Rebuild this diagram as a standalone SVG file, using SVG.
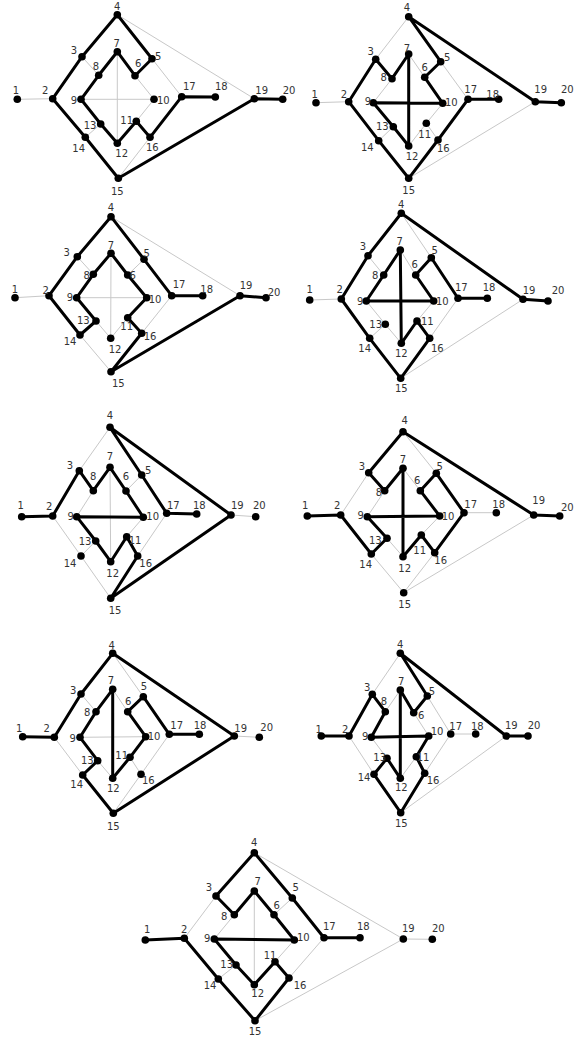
<svg xmlns="http://www.w3.org/2000/svg" width="576" height="1039" viewBox="0 0 576 1039">
<style>
.bg{fill:#fff}
.connectors line{stroke:#c8c8c8;stroke-width:1;fill:none}
.connectors polyline{stroke:#000;stroke-width:3;fill:none;stroke-linejoin:round;stroke-linecap:round}
.nodes circle{fill:#000}
.nodes text{font-family:"DejaVu Sans",Verdana,sans-serif;font-size:10px;fill:#333;text-anchor:middle}
</style>
<rect class="bg" x="0" y="0" width="576" height="1039"/>

<!-- Panel 1 -->
<g id="p1">
<g id="p1-connectors" class="connectors">
<line x1="17.3" y1="99.3" x2="52.7" y2="98.7"/>
<line x1="82" y1="56.7" x2="98.7" y2="75.3"/>
<line x1="117.3" y1="14.7" x2="254.3" y2="98.7"/>
<line x1="152" y1="58.7" x2="181.7" y2="96.7"/>
<line x1="135" y1="75.7" x2="154" y2="99.3"/>
<line x1="117.3" y1="51.7" x2="117.3" y2="143.3"/>
<line x1="81" y1="99.3" x2="154" y2="99.3"/>
<line x1="154" y1="99.3" x2="136.3" y2="121.3"/>
<line x1="100.7" y1="124" x2="85.3" y2="137.3"/>
<line x1="118.3" y1="178.3" x2="150" y2="137.3"/>
<polyline points="282.7,99.3 254.3,98.7 118.3,178.3 85.3,137.3 52.7,98.7 82,56.7 117.3,14.7 152,58.7 135,75.7 117.3,51.7 98.7,75.3 81,99.3 100.7,124 117.3,143.3 136.3,121.3 150,137.3 181.7,96.7 215.3,97"/>
</g>
<g class="nodes">
<g id="p1-n1"><circle cx="17.3" cy="99.3" r="3.8"/><text x="16" y="93.6">1</text></g>
<g id="p1-n2"><circle cx="52.7" cy="98.7" r="3.8"/><text x="45.3" y="93.6">2</text></g>
<g id="p1-n3"><circle cx="82" cy="56.7" r="3.8"/><text x="74" y="54.3">3</text></g>
<g id="p1-n4"><circle cx="117.3" cy="14.7" r="3.8"/><text x="117.3" y="9.6">4</text></g>
<g id="p1-n5"><circle cx="152" cy="58.7" r="3.8"/><text x="158.3" y="60.3">5</text></g>
<g id="p1-n6"><circle cx="135" cy="75.7" r="3.8"/><text x="138.3" y="66.9">6</text></g>
<g id="p1-n7"><circle cx="117.3" cy="51.7" r="3.8"/><text x="116.7" y="46.9">7</text></g>
<g id="p1-n8"><circle cx="98.7" cy="75.3" r="3.8"/><text x="96" y="70.3">8</text></g>
<g id="p1-n9"><circle cx="81" cy="99.3" r="3.8"/><text x="74" y="103.6">9</text></g>
<g id="p1-n10"><circle cx="154" cy="99.3" r="3.8"/><text x="163.3" y="103.6">10</text></g>
<g id="p1-n11"><circle cx="136.3" cy="121.3" r="3.8"/><text x="126.7" y="123.6">11</text></g>
<g id="p1-n12"><circle cx="117.3" cy="143.3" r="3.8"/><text x="121.7" y="156.9">12</text></g>
<g id="p1-n13"><circle cx="100.7" cy="124" r="3.8"/><text x="90" y="128.6">13</text></g>
<g id="p1-n14"><circle cx="85.3" cy="137.3" r="3.8"/><text x="78.7" y="151.9">14</text></g>
<g id="p1-n15"><circle cx="118.3" cy="178.3" r="3.8"/><text x="117.3" y="194.6">15</text></g>
<g id="p1-n16"><circle cx="150" cy="137.3" r="3.8"/><text x="152.3" y="151.3">16</text></g>
<g id="p1-n17"><circle cx="181.7" cy="96.7" r="3.8"/><text x="189.3" y="89.6">17</text></g>
<g id="p1-n18"><circle cx="215.3" cy="97" r="3.8"/><text x="221.3" y="89.6">18</text></g>
<g id="p1-n19"><circle cx="254.3" cy="98.7" r="3.8"/><text x="261.7" y="93.6">19</text></g>
<g id="p1-n20"><circle cx="282.7" cy="99.3" r="3.8"/><text x="289" y="93.6">20</text></g>
</g>
</g>

<!-- Panel 2 -->
<g id="p2">
<g id="p2-connectors" class="connectors">
<line x1="316" y1="102.7" x2="348.7" y2="101.7"/>
<line x1="375.7" y1="59.3" x2="408.7" y2="16.7"/>
<line x1="424.7" y1="77.3" x2="408.7" y2="54"/>
<line x1="440.7" y1="61.7" x2="468" y2="99.3"/>
<line x1="392" y1="78.7" x2="373.3" y2="102.7"/>
<line x1="393.3" y1="126.7" x2="378.7" y2="140.7"/>
<line x1="442.7" y1="103.3" x2="426.3" y2="123.3"/>
<line x1="426.3" y1="123.3" x2="408.7" y2="146"/>
<line x1="426.3" y1="123.3" x2="438" y2="140"/>
<line x1="408.7" y1="178.3" x2="535.3" y2="101.7"/>
<polyline points="561.3,102.7 535.3,101.7 408.7,16.7 440.7,61.7 424.7,77.3 442.7,103.3 373.3,102.7 393.3,126.7 408.7,146 408.7,54 392,78.7 375.7,59.3 348.7,101.7 378.7,140.7 408.7,178.3 438,140 468,99.3 498.7,99.3"/>
</g>
<g class="nodes">
<g id="p2-n1"><circle cx="316" cy="102.7" r="3.8"/><text x="314.7" y="97.6">1</text></g>
<g id="p2-n2"><circle cx="348.7" cy="101.7" r="3.8"/><text x="344" y="97.9">2</text></g>
<g id="p2-n3"><circle cx="375.7" cy="59.3" r="3.8"/><text x="370.7" y="55.3">3</text></g>
<g id="p2-n4"><circle cx="408.7" cy="16.7" r="3.8"/><text x="407" y="10.9">4</text></g>
<g id="p2-n5"><circle cx="440.7" cy="61.7" r="3.8"/><text x="447.3" y="60.9">5</text></g>
<g id="p2-n6"><circle cx="424.7" cy="77.3" r="3.8"/><text x="424.7" y="71.3">6</text></g>
<g id="p2-n7"><circle cx="408.7" cy="54" r="3.8"/><text x="407" y="51.9">7</text></g>
<g id="p2-n8"><circle cx="392" cy="78.7" r="3.8"/><text x="383.7" y="80.9">8</text></g>
<g id="p2-n9"><circle cx="373.3" cy="102.7" r="3.8"/><text x="368" y="105.3">9</text></g>
<g id="p2-n10"><circle cx="442.7" cy="103.3" r="3.8"/><text x="451.3" y="106.3">10</text></g>
<g id="p2-n11"><circle cx="426.3" cy="123.3" r="3.8"/><text x="424.7" y="137.6">11</text></g>
<g id="p2-n12"><circle cx="408.7" cy="146" r="3.8"/><text x="412" y="159.6">12</text></g>
<g id="p2-n13"><circle cx="393.3" cy="126.7" r="3.8"/><text x="382.3" y="130.3">13</text></g>
<g id="p2-n14"><circle cx="378.7" cy="140.7" r="3.8"/><text x="367.3" y="150.9">14</text></g>
<g id="p2-n15"><circle cx="408.7" cy="178.3" r="3.8"/><text x="408.7" y="194.3">15</text></g>
<g id="p2-n16"><circle cx="438" cy="140" r="3.8"/><text x="443.3" y="151.9">16</text></g>
<g id="p2-n17"><circle cx="468" cy="99.3" r="3.8"/><text x="470.7" y="92.9">17</text></g>
<g id="p2-n18"><circle cx="498.7" cy="99.3" r="3.8"/><text x="492.7" y="97.9">18</text></g>
<g id="p2-n19"><circle cx="535.3" cy="101.7" r="3.8"/><text x="540.7" y="92.9">19</text></g>
<g id="p2-n20"><circle cx="561.3" cy="102.7" r="3.8"/><text x="567.3" y="92.9">20</text></g>
</g>
</g>

<!-- Panel 3 -->
<g id="p3">
<g id="p3-connectors" class="connectors">
<line x1="15" y1="297.7" x2="49" y2="295.7"/>
<line x1="77.3" y1="256.7" x2="93.3" y2="274.3"/>
<line x1="111" y1="216.7" x2="240" y2="295.7"/>
<line x1="144" y1="259.3" x2="127.7" y2="275"/>
<line x1="111" y1="253.3" x2="110.7" y2="338.3"/>
<line x1="76.7" y1="297.7" x2="146.7" y2="297.7"/>
<line x1="110.7" y1="338.3" x2="96" y2="321"/>
<line x1="127.7" y1="317.7" x2="110.7" y2="338.3"/>
<line x1="141.7" y1="333.3" x2="171.7" y2="295.7"/>
<line x1="80" y1="335" x2="111" y2="371.7"/>
<polyline points="202.7,295.7 171.7,295.7 144,259.3 111,216.7 77.3,256.7 49,295.7 80,335 96,321 76.7,297.7 93.3,274.3 111,253.3 127.7,275 146.7,297.7 127.7,317.7 141.7,333.3 111,371.7 240,295.7 266,297.7"/>
</g>
<g class="nodes">
<g id="p3-n1"><circle cx="15" cy="297.7" r="3.8"/><text x="15" y="292.9">1</text></g>
<g id="p3-n2"><circle cx="49" cy="295.7" r="3.8"/><text x="45.7" y="293.6">2</text></g>
<g id="p3-n3"><circle cx="77.3" cy="256.7" r="3.8"/><text x="66.7" y="255.9">3</text></g>
<g id="p3-n4"><circle cx="111" cy="216.7" r="3.8"/><text x="111" y="211.3">4</text></g>
<g id="p3-n5"><circle cx="144" cy="259.3" r="3.8"/><text x="146.7" y="256.9">5</text></g>
<g id="p3-n6"><circle cx="127.7" cy="275" r="3.8"/><text x="132.7" y="278.6">6</text></g>
<g id="p3-n7"><circle cx="111" cy="253.3" r="3.8"/><text x="111" y="249.3">7</text></g>
<g id="p3-n8"><circle cx="93.3" cy="274.3" r="3.8"/><text x="86.7" y="278.6">8</text></g>
<g id="p3-n9"><circle cx="76.7" cy="297.7" r="3.8"/><text x="70" y="301.3">9</text></g>
<g id="p3-n10"><circle cx="146.7" cy="297.7" r="3.8"/><text x="155" y="302.9">10</text></g>
<g id="p3-n11"><circle cx="127.7" cy="317.7" r="3.8"/><text x="126.7" y="330.3">11</text></g>
<g id="p3-n12"><circle cx="110.7" cy="338.3" r="3.8"/><text x="115" y="352.6">12</text></g>
<g id="p3-n13"><circle cx="96" cy="321" r="3.8"/><text x="83.3" y="323.6">13</text></g>
<g id="p3-n14"><circle cx="80" cy="335" r="3.8"/><text x="70" y="345.3">14</text></g>
<g id="p3-n15"><circle cx="111" cy="371.7" r="3.8"/><text x="118.3" y="386.9">15</text></g>
<g id="p3-n16"><circle cx="141.7" cy="333.3" r="3.8"/><text x="150" y="340.3">16</text></g>
<g id="p3-n17"><circle cx="171.7" cy="295.7" r="3.8"/><text x="179" y="287.9">17</text></g>
<g id="p3-n18"><circle cx="202.7" cy="295.7" r="3.8"/><text x="206.7" y="292.9">18</text></g>
<g id="p3-n19"><circle cx="240" cy="295.7" r="3.8"/><text x="246" y="288.6">19</text></g>
<g id="p3-n20"><circle cx="266" cy="297.7" r="3.8"/><text x="274" y="295.9">20</text></g>
</g>
</g>

<!-- Panel 4 -->
<g id="p4">
<g id="p4-connectors" class="connectors">
<line x1="309.7" y1="300" x2="341.3" y2="299"/>
<line x1="401.3" y1="213.3" x2="431.3" y2="257.7"/>
<line x1="368" y1="255.7" x2="383.7" y2="275"/>
<line x1="415.7" y1="275" x2="400.3" y2="250"/>
<line x1="366.3" y1="301" x2="385.3" y2="324.3"/>
<line x1="401.3" y1="343.3" x2="385.3" y2="324.3"/>
<line x1="385.3" y1="324.3" x2="369.7" y2="338.3"/>
<line x1="433.7" y1="301" x2="417" y2="321"/>
<line x1="429.7" y1="338.3" x2="458" y2="298.3"/>
<line x1="400.7" y1="378.3" x2="523" y2="299.3"/>
<polyline points="548,301 523,299.3 401.3,213.3 368,255.7 341.3,299 369.7,338.3 400.7,378.3 429.7,338.3 417,321 401.3,343.3 400.3,250 383.7,275 366.3,301 433.7,301 415.7,275 431.3,257.7 458,298.3 487.3,298.3"/>
</g>
<g class="nodes">
<g id="p4-n1"><circle cx="309.7" cy="300" r="3.8"/><text x="309.7" y="292.9">1</text></g>
<g id="p4-n2"><circle cx="341.3" cy="299" r="3.8"/><text x="339.7" y="292.9">2</text></g>
<g id="p4-n3"><circle cx="368" cy="255.7" r="3.8"/><text x="363" y="250.3">3</text></g>
<g id="p4-n4"><circle cx="401.3" cy="213.3" r="3.8"/><text x="401.3" y="207.9">4</text></g>
<g id="p4-n5"><circle cx="431.3" cy="257.7" r="3.8"/><text x="434.7" y="253.6">5</text></g>
<g id="p4-n6"><circle cx="415.7" cy="275" r="3.8"/><text x="414.7" y="267.9">6</text></g>
<g id="p4-n7"><circle cx="400.3" cy="250" r="3.8"/><text x="399.7" y="245.3">7</text></g>
<g id="p4-n8"><circle cx="383.7" cy="275" r="3.8"/><text x="375.3" y="278.6">8</text></g>
<g id="p4-n9"><circle cx="366.3" cy="301" r="3.8"/><text x="360.3" y="305.3">9</text></g>
<g id="p4-n10"><circle cx="433.7" cy="301" r="3.8"/><text x="442.3" y="305.3">10</text></g>
<g id="p4-n11"><circle cx="417" cy="321" r="3.8"/><text x="427.3" y="325.3">11</text></g>
<g id="p4-n12"><circle cx="401.3" cy="343.3" r="3.8"/><text x="401.3" y="356.9">12</text></g>
<g id="p4-n13"><circle cx="385.3" cy="324.3" r="3.8"/><text x="375.7" y="327.6">13</text></g>
<g id="p4-n14"><circle cx="369.7" cy="338.3" r="3.8"/><text x="364.7" y="351.9">14</text></g>
<g id="p4-n15"><circle cx="400.7" cy="378.3" r="3.8"/><text x="401.3" y="391.9">15</text></g>
<g id="p4-n16"><circle cx="429.7" cy="338.3" r="3.8"/><text x="437.3" y="351.9">16</text></g>
<g id="p4-n17"><circle cx="458" cy="298.3" r="3.8"/><text x="461.3" y="291.3">17</text></g>
<g id="p4-n18"><circle cx="487.3" cy="298.3" r="3.8"/><text x="489" y="291.3">18</text></g>
<g id="p4-n19"><circle cx="523" cy="299.3" r="3.8"/><text x="529" y="293.6">19</text></g>
<g id="p4-n20"><circle cx="548" cy="301" r="3.8"/><text x="558" y="293.6">20</text></g>
</g>
</g>

<!-- Panel 5 -->
<g id="p5">
<g id="p5-connectors" class="connectors">
<line x1="79.3" y1="470.7" x2="110" y2="427.3"/>
<line x1="52.7" y1="516" x2="81" y2="556"/>
<line x1="81" y1="556" x2="110.7" y2="598.3"/>
<line x1="93.3" y1="490.7" x2="76.7" y2="516.7"/>
<line x1="110" y1="467.3" x2="110.7" y2="561.7"/>
<line x1="141.7" y1="475" x2="126" y2="491"/>
<line x1="143.3" y1="517.3" x2="126.7" y2="536.7"/>
<line x1="137.7" y1="556" x2="166.7" y2="513.3"/>
<line x1="95.7" y1="541" x2="81" y2="556"/>
<line x1="231" y1="515" x2="255.7" y2="516.7"/>
<polyline points="21.7,516.7 52.7,516 79.3,470.7 93.3,490.7 110,467.3 126,491 143.3,517.3 76.7,516.7 95.7,541 110.7,561.7 126.7,536.7 137.7,556 110.7,598.3 231,515 110,427.3 141.7,475 166.7,513.3 196.7,514"/>
</g>
<g class="nodes">
<g id="p5-n1"><circle cx="21.7" cy="516.7" r="3.8"/><text x="20.7" y="508.6">1</text></g>
<g id="p5-n2"><circle cx="52.7" cy="516" r="3.8"/><text x="49.3" y="509.6">2</text></g>
<g id="p5-n3"><circle cx="79.3" cy="470.7" r="3.8"/><text x="70" y="468.6">3</text></g>
<g id="p5-n4"><circle cx="110" cy="427.3" r="3.8"/><text x="110" y="418.6">4</text></g>
<g id="p5-n5"><circle cx="141.7" cy="475" r="3.8"/><text x="148.3" y="473.6">5</text></g>
<g id="p5-n6"><circle cx="126" cy="491" r="3.8"/><text x="126" y="479.6">6</text></g>
<g id="p5-n7"><circle cx="110" cy="467.3" r="3.8"/><text x="110" y="460.3">7</text></g>
<g id="p5-n8"><circle cx="93.3" cy="490.7" r="3.8"/><text x="93.3" y="479.6">8</text></g>
<g id="p5-n9"><circle cx="76.7" cy="516.7" r="3.8"/><text x="70.7" y="519.6">9</text></g>
<g id="p5-n10"><circle cx="143.3" cy="517.3" r="3.8"/><text x="152.7" y="519.6">10</text></g>
<g id="p5-n11"><circle cx="126.7" cy="536.7" r="3.8"/><text x="135" y="543.6">11</text></g>
<g id="p5-n12"><circle cx="110.7" cy="561.7" r="3.8"/><text x="112.7" y="576.9">12</text></g>
<g id="p5-n13"><circle cx="95.7" cy="541" r="3.8"/><text x="85" y="544.6">13</text></g>
<g id="p5-n14"><circle cx="81" cy="556" r="3.8"/><text x="70" y="566.9">14</text></g>
<g id="p5-n15"><circle cx="110.7" cy="598.3" r="3.8"/><text x="115" y="613.6">15</text></g>
<g id="p5-n16"><circle cx="137.7" cy="556" r="3.8"/><text x="145.7" y="566.9">16</text></g>
<g id="p5-n17"><circle cx="166.7" cy="513.3" r="3.8"/><text x="173.3" y="508.6">17</text></g>
<g id="p5-n18"><circle cx="196.7" cy="514" r="3.8"/><text x="199.3" y="508.6">18</text></g>
<g id="p5-n19"><circle cx="231" cy="515" r="3.8"/><text x="237.3" y="508.6">19</text></g>
<g id="p5-n20"><circle cx="255.7" cy="516.7" r="3.8"/><text x="259.3" y="508.6">20</text></g>
</g>
</g>

<!-- Panel 6 -->
<g id="p6">
<g id="p6-connectors" class="connectors">
<line x1="340.7" y1="515" x2="368.7" y2="472.7"/>
<line x1="403" y1="431.7" x2="436.3" y2="473.3"/>
<line x1="420.3" y1="490.7" x2="403" y2="468.3"/>
<line x1="384.7" y1="490.7" x2="367.3" y2="516.7"/>
<line x1="403" y1="556.7" x2="387" y2="538.3"/>
<line x1="439.7" y1="516" x2="421.3" y2="535"/>
<line x1="371.3" y1="554" x2="403.7" y2="592.7"/>
<line x1="403.7" y1="592.7" x2="434.7" y2="552.7"/>
<line x1="403.7" y1="592.7" x2="533.7" y2="515"/>
<line x1="464" y1="512.7" x2="496.3" y2="512.7"/>
<polyline points="307.3,516 340.7,515 371.3,554 387,538.3 367.3,516.7 439.7,516 420.3,490.7 436.3,473.3 464,512.7 434.7,552.7 421.3,535 403,556.7 403,468.3 384.7,490.7 368.7,472.7 403,431.7 533.7,515 559.7,516"/>
</g>
<g class="nodes">
<g id="p6-n1"><circle cx="307.3" cy="516" r="3.8"/><text x="305.3" y="508.6">1</text></g>
<g id="p6-n2"><circle cx="340.7" cy="515" r="3.8"/><text x="337.3" y="508.6">2</text></g>
<g id="p6-n3"><circle cx="368.7" cy="472.7" r="3.8"/><text x="362" y="469.6">3</text></g>
<g id="p6-n4"><circle cx="403" cy="431.7" r="3.8"/><text x="404.7" y="423.6">4</text></g>
<g id="p6-n5"><circle cx="436.3" cy="473.3" r="3.8"/><text x="439.7" y="469.6">5</text></g>
<g id="p6-n6"><circle cx="420.3" cy="490.7" r="3.8"/><text x="417.3" y="483.6">6</text></g>
<g id="p6-n7"><circle cx="403" cy="468.3" r="3.8"/><text x="403" y="462.9">7</text></g>
<g id="p6-n8"><circle cx="384.7" cy="490.7" r="3.8"/><text x="379" y="496.3">8</text></g>
<g id="p6-n9"><circle cx="367.3" cy="516.7" r="3.8"/><text x="360.7" y="518.6">9</text></g>
<g id="p6-n10"><circle cx="439.7" cy="516" r="3.8"/><text x="448" y="520.3">10</text></g>
<g id="p6-n11"><circle cx="421.3" cy="535" r="3.8"/><text x="419.7" y="553.6">11</text></g>
<g id="p6-n12"><circle cx="403" cy="556.7" r="3.8"/><text x="404.7" y="571.9">12</text></g>
<g id="p6-n13"><circle cx="387" cy="538.3" r="3.8"/><text x="375.3" y="543.6">13</text></g>
<g id="p6-n14"><circle cx="371.3" cy="554" r="3.8"/><text x="365.7" y="567.6">14</text></g>
<g id="p6-n15"><circle cx="403.7" cy="592.7" r="3.8"/><text x="404.7" y="607.9">15</text></g>
<g id="p6-n16"><circle cx="434.7" cy="552.7" r="3.8"/><text x="440.7" y="564.3">16</text></g>
<g id="p6-n17"><circle cx="464" cy="512.7" r="3.8"/><text x="470.7" y="507.6">17</text></g>
<g id="p6-n18"><circle cx="496.3" cy="512.7" r="3.8"/><text x="498.7" y="507.6">18</text></g>
<g id="p6-n19"><circle cx="533.7" cy="515" r="3.8"/><text x="538.7" y="504.3">19</text></g>
<g id="p6-n20"><circle cx="559.7" cy="516" r="3.8"/><text x="567.3" y="510.9">20</text></g>
</g>
</g>

<!-- Panel 7 -->
<g id="p7">
<g id="p7-connectors" class="connectors">
<line x1="81" y1="694" x2="96" y2="711.7"/>
<line x1="112.7" y1="653.3" x2="143.3" y2="696.7"/>
<line x1="127.7" y1="711.7" x2="112.7" y2="689.3"/>
<line x1="80" y1="737.3" x2="145.7" y2="736.7"/>
<line x1="54.3" y1="737.3" x2="82.7" y2="775"/>
<line x1="112.7" y1="778.3" x2="97.7" y2="760.7"/>
<line x1="130" y1="757.3" x2="141" y2="774.3"/>
<line x1="141" y1="774.3" x2="169.3" y2="734.3"/>
<line x1="113.3" y1="813.3" x2="141" y2="774.3"/>
<line x1="234.3" y1="736" x2="259.3" y2="737.3"/>
<polyline points="22.7,736.7 54.3,737.3 81,694 112.7,653.3 234.3,736 113.3,813.3 82.7,775 97.7,760.7 80,737.3 96,711.7 112.7,689.3 112.7,778.3 130,757.3 145.7,736.7 127.7,711.7 143.3,696.7 169.3,734.3 199.3,734.3"/>
</g>
<g class="nodes">
<g id="p7-n1"><circle cx="22.7" cy="736.7" r="3.8"/><text x="19.3" y="731.9">1</text></g>
<g id="p7-n2"><circle cx="54.3" cy="737.3" r="3.8"/><text x="46.7" y="731.9">2</text></g>
<g id="p7-n3"><circle cx="81" cy="694" r="3.8"/><text x="73.3" y="693.6">3</text></g>
<g id="p7-n4"><circle cx="112.7" cy="653.3" r="3.8"/><text x="111.7" y="648.6">4</text></g>
<g id="p7-n5"><circle cx="143.3" cy="696.7" r="3.8"/><text x="144" y="690.3">5</text></g>
<g id="p7-n6"><circle cx="127.7" cy="711.7" r="3.8"/><text x="128.3" y="705.3">6</text></g>
<g id="p7-n7"><circle cx="112.7" cy="689.3" r="3.8"/><text x="111" y="684.3">7</text></g>
<g id="p7-n8"><circle cx="96" cy="711.7" r="3.8"/><text x="87.3" y="716.3">8</text></g>
<g id="p7-n9"><circle cx="80" cy="737.3" r="3.8"/><text x="72.7" y="741.9">9</text></g>
<g id="p7-n10"><circle cx="145.7" cy="736.7" r="3.8"/><text x="154" y="739.6">10</text></g>
<g id="p7-n11"><circle cx="130" cy="757.3" r="3.8"/><text x="121.7" y="758.6">11</text></g>
<g id="p7-n12"><circle cx="112.7" cy="778.3" r="3.8"/><text x="113.3" y="791.9">12</text></g>
<g id="p7-n13"><circle cx="97.7" cy="760.7" r="3.8"/><text x="87.3" y="764.3">13</text></g>
<g id="p7-n14"><circle cx="82.7" cy="775" r="3.8"/><text x="76.7" y="787.6">14</text></g>
<g id="p7-n15"><circle cx="113.3" cy="813.3" r="3.8"/><text x="113.3" y="829.6">15</text></g>
<g id="p7-n16"><circle cx="141" cy="774.3" r="3.8"/><text x="148.3" y="784.3">16</text></g>
<g id="p7-n17"><circle cx="169.3" cy="734.3" r="3.8"/><text x="176.7" y="728.6">17</text></g>
<g id="p7-n18"><circle cx="199.3" cy="734.3" r="3.8"/><text x="200" y="728.6">18</text></g>
<g id="p7-n19"><circle cx="234.3" cy="736" r="3.8"/><text x="240.7" y="731.9">19</text></g>
<g id="p7-n20"><circle cx="259.3" cy="737.3" r="3.8"/><text x="266.7" y="730.9">20</text></g>
</g>
</g>

<!-- Panel 8 -->
<g id="p8">
<g id="p8-connectors" class="connectors">
<line x1="372.3" y1="694.3" x2="400.3" y2="653.3"/>
<line x1="400.3" y1="690" x2="385.3" y2="711.7"/>
<line x1="349" y1="736" x2="374" y2="774.3"/>
<line x1="371.3" y1="737.3" x2="387" y2="758.3"/>
<line x1="427.3" y1="696" x2="450.7" y2="734"/>
<line x1="413.7" y1="712.7" x2="428.7" y2="736"/>
<line x1="416.3" y1="756.7" x2="400.3" y2="778.3"/>
<line x1="424.7" y1="773.3" x2="450.7" y2="734"/>
<line x1="450.7" y1="734" x2="475.7" y2="734"/>
<line x1="400.7" y1="812.7" x2="506.3" y2="736"/>
<polyline points="321.3,736 349,736 372.3,694.3 385.3,711.7 371.3,737.3 428.7,736 416.3,756.7 424.7,773.3 400.7,812.7 374,774.3 387,758.3 400.3,778.3 400.3,690 413.7,712.7 427.3,696 400.3,653.3 506.3,736 528,736"/>
</g>
<g class="nodes">
<g id="p8-n1"><circle cx="321.3" cy="736" r="3.8"/><text x="318.7" y="732.6">1</text></g>
<g id="p8-n2"><circle cx="349" cy="736" r="3.8"/><text x="345.3" y="732.6">2</text></g>
<g id="p8-n3"><circle cx="372.3" cy="694.3" r="3.8"/><text x="367.3" y="690.9">3</text></g>
<g id="p8-n4"><circle cx="400.3" cy="653.3" r="3.8"/><text x="400.3" y="647.6">4</text></g>
<g id="p8-n5"><circle cx="427.3" cy="696" r="3.8"/><text x="432" y="695.3">5</text></g>
<g id="p8-n6"><circle cx="413.7" cy="712.7" r="3.8"/><text x="421.3" y="718.6">6</text></g>
<g id="p8-n7"><circle cx="400.3" cy="690" r="3.8"/><text x="401.3" y="685.3">7</text></g>
<g id="p8-n8"><circle cx="385.3" cy="711.7" r="3.8"/><text x="384" y="705.3">8</text></g>
<g id="p8-n9"><circle cx="371.3" cy="737.3" r="3.8"/><text x="365.3" y="739.6">9</text></g>
<g id="p8-n10"><circle cx="428.7" cy="736" r="3.8"/><text x="437" y="735.3">10</text></g>
<g id="p8-n11"><circle cx="416.3" cy="756.7" r="3.8"/><text x="423" y="760.9">11</text></g>
<g id="p8-n12"><circle cx="400.3" cy="778.3" r="3.8"/><text x="401.3" y="790.9">12</text></g>
<g id="p8-n13"><circle cx="387" cy="758.3" r="3.8"/><text x="379.7" y="760.9">13</text></g>
<g id="p8-n14"><circle cx="374" cy="774.3" r="3.8"/><text x="364" y="781.3">14</text></g>
<g id="p8-n15"><circle cx="400.7" cy="812.7" r="3.8"/><text x="401.3" y="826.9">15</text></g>
<g id="p8-n16"><circle cx="424.7" cy="773.3" r="3.8"/><text x="433" y="784.3">16</text></g>
<g id="p8-n17"><circle cx="450.7" cy="734" r="3.8"/><text x="455.7" y="729.6">17</text></g>
<g id="p8-n18"><circle cx="475.7" cy="734" r="3.8"/><text x="477.3" y="729.6">18</text></g>
<g id="p8-n19"><circle cx="506.3" cy="736" r="3.8"/><text x="511.3" y="728.6">19</text></g>
<g id="p8-n20"><circle cx="528" cy="736" r="3.8"/><text x="534" y="728.6">20</text></g>
</g>
</g>

<!-- Panel 9 -->
<g id="p9">
<g id="p9-connectors" class="connectors">
<line x1="184.3" y1="938.3" x2="216" y2="896"/>
<line x1="234.3" y1="914.7" x2="214.3" y2="939"/>
<line x1="254.3" y1="891" x2="254.3" y2="984.7"/>
<line x1="292.3" y1="898" x2="274" y2="914.7"/>
<line x1="294.3" y1="940" x2="275" y2="961.7"/>
<line x1="289" y1="978" x2="324" y2="937.7"/>
<line x1="236" y1="965" x2="218.3" y2="979"/>
<line x1="255" y1="1020.7" x2="403.3" y2="939"/>
<line x1="254.3" y1="852.7" x2="403.3" y2="939"/>
<line x1="403.3" y1="939" x2="432.3" y2="939.3"/>
<polyline points="145.3,940 184.3,938.3 218.3,979 255,1020.7 289,978 275,961.7 254.3,984.7 236,965 214.3,939 294.3,940 274,914.7 254.3,891 234.3,914.7 216,896 254.3,852.7 292.3,898 324,937.7 360,937.7"/>
</g>
<g class="nodes">
<g id="p9-n1"><circle cx="145.3" cy="940" r="3.8"/><text x="147.3" y="932.9">1</text></g>
<g id="p9-n2"><circle cx="184.3" cy="938.3" r="3.8"/><text x="184.3" y="932.9">2</text></g>
<g id="p9-n3"><circle cx="216" cy="896" r="3.8"/><text x="209" y="890.9">3</text></g>
<g id="p9-n4"><circle cx="254.3" cy="852.7" r="3.8"/><text x="254.3" y="846.3">4</text></g>
<g id="p9-n5"><circle cx="292.3" cy="898" r="3.8"/><text x="295.7" y="890.9">5</text></g>
<g id="p9-n6"><circle cx="274" cy="914.7" r="3.8"/><text x="276.7" y="908.6">6</text></g>
<g id="p9-n7"><circle cx="254.3" cy="891" r="3.8"/><text x="257.7" y="885.3">7</text></g>
<g id="p9-n8"><circle cx="234.3" cy="914.7" r="3.8"/><text x="224.3" y="919.6">8</text></g>
<g id="p9-n9"><circle cx="214.3" cy="939" r="3.8"/><text x="207.3" y="941.9">9</text></g>
<g id="p9-n10"><circle cx="294.3" cy="940" r="3.8"/><text x="303.3" y="941.3">10</text></g>
<g id="p9-n11"><circle cx="275" cy="961.7" r="3.8"/><text x="270" y="958.6">11</text></g>
<g id="p9-n12"><circle cx="254.3" cy="984.7" r="3.8"/><text x="257.7" y="996.9">12</text></g>
<g id="p9-n13"><circle cx="236" cy="965" r="3.8"/><text x="226.7" y="967.6">13</text></g>
<g id="p9-n14"><circle cx="218.3" cy="979" r="3.8"/><text x="210" y="989.3">14</text></g>
<g id="p9-n15"><circle cx="255" cy="1020.7" r="3.8"/><text x="255" y="1034.6">15</text></g>
<g id="p9-n16"><circle cx="289" cy="978" r="3.8"/><text x="300" y="989.3">16</text></g>
<g id="p9-n17"><circle cx="324" cy="937.7" r="3.8"/><text x="329.3" y="930.3">17</text></g>
<g id="p9-n18"><circle cx="360" cy="937.7" r="3.8"/><text x="363.3" y="930.3">18</text></g>
<g id="p9-n19"><circle cx="403.3" cy="939" r="3.8"/><text x="408.3" y="931.9">19</text></g>
<g id="p9-n20"><circle cx="432.3" cy="939.3" r="3.8"/><text x="438.3" y="931.9">20</text></g>
</g>
</g>
</svg>
